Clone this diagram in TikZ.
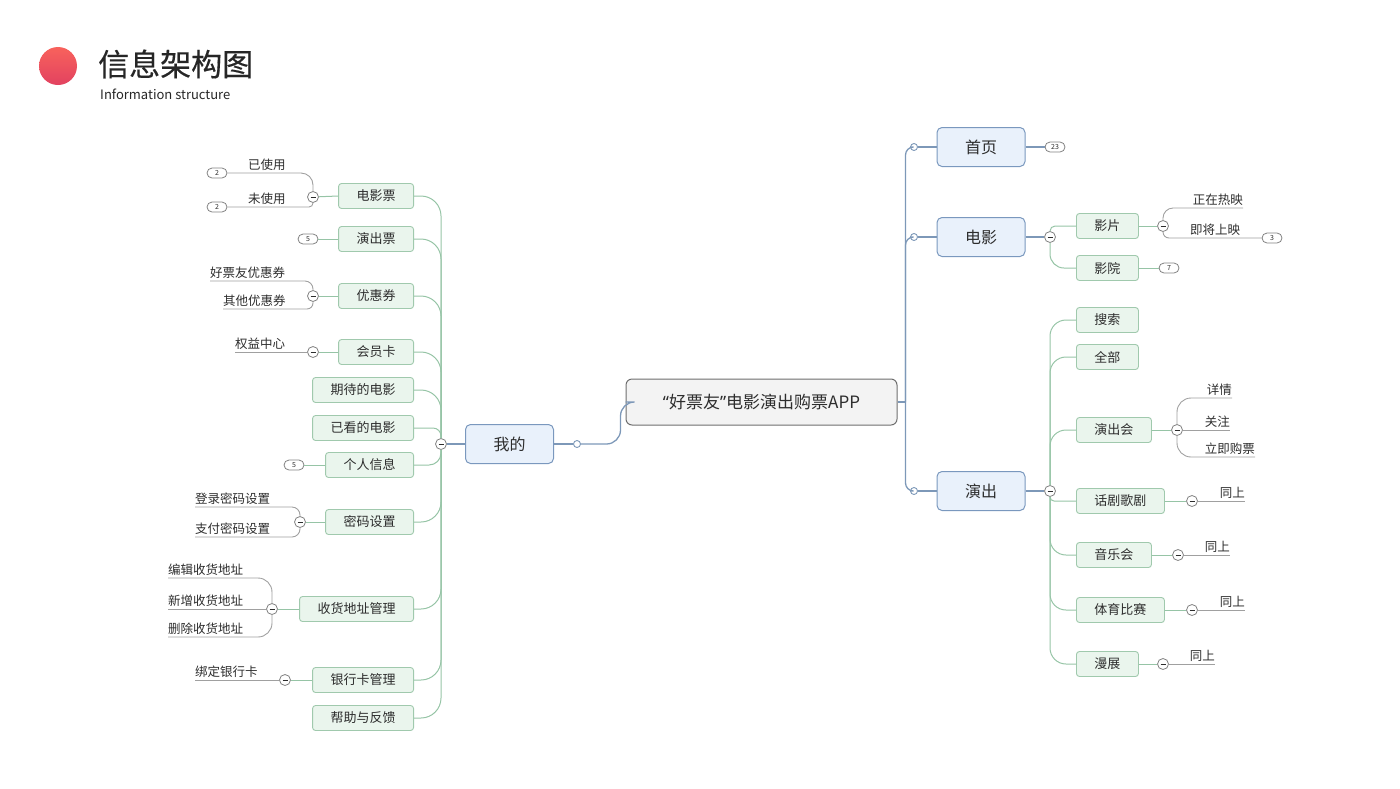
\documentclass[tikz,border=0pt]{standalone}
\usepackage{fontspec}
\setmainfont{Noto Sans CJK SC}
\newfontfamily\quotefont{Noto Sans}
\newfontfamily\titlefont{Noto Sans CJK SC}[FakeBold=0.4]
\usetikzlibrary{calc}
\definecolor{gline}{RGB}{150,196,166}
\definecolor{gborder}{RGB}{160,201,173}
\definecolor{gfill}{RGB}{234,245,237}
\definecolor{bline}{RGB}{125,152,184}
\definecolor{bborder}{RGB}{122,152,190}
\definecolor{bfill}{RGB}{233,241,251}
\definecolor{afill}{RGB}{243,243,243}
\definecolor{aborder}{RGB}{110,110,110}
\definecolor{lline}{RGB}{160,160,160}
\definecolor{mgray}{RGB}{130,130,130}
\definecolor{txt}{RGB}{45,45,45}
\newcommand{\fsz}[1]{\fontsize{#1}{#1}\selectfont}
\tikzset{
  gbox/.style  = {draw=gborder, fill=gfill, rounded corners=3pt, line width=0.9pt,
                  minimum height=25, inner xsep=18pt, font=\fsz{13}, text=txt},
  bbox/.style  = {draw=bborder, fill=bfill, rounded corners=5pt, line width=1pt,
                  minimum width=88, minimum height=39, font=\fsz{16}, text=txt},
  minus/.style = {circle, draw=mgray, fill=white, minimum size=11, inner sep=0,
                  line width=0.8pt,
                  path picture={\draw[txt, line width=1pt]
                    ([xshift=-2.5pt]path picture bounding box.center) --
                    ([xshift=2.5pt]path picture bounding box.center);}},
  ocirc/.style = {circle, draw=bline, fill=white, minimum size=7, inner sep=0, line width=0.9pt},
  badge/.style = {draw=mgray, fill=white, rounded corners=5pt, minimum width=20, line width=0.8pt,
                  minimum height=10, inner sep=0, font=\fsz{7}, text=txt},
  leaf/.style  = {inner xsep=0, inner ysep=2pt, font=\fsz{12.5}, text=txt},
  gl/.style    = {draw=gline, line width=1pt},
  bl/.style    = {draw=bline, line width=1.3pt},
  ll/.style    = {draw=lline, line width=0.9pt}
}
\begin{document}
\begin{tikzpicture}[x=1pt, y=-1pt]
    \useasboundingbox (0,0) rectangle (1400,788);
    % title
    \shade[top color={rgb,255:red,248;green,98;blue,92}, bottom color={rgb,255:red,226;green,66;blue,96}]
        (58,66) circle (19);
    \node[anchor=west, inner sep=0, font=\titlefont\fsz{31}, text=black!85] (ttl) at (98,64) {信息架构图};
    \node[anchor=west, inner sep=0, font=\fsz{13}, text=black!85] (sub) at (100,94) {Information structure};

    % centre and first level
    \node[draw=aborder, fill=afill, rounded corners=6pt, line width=1pt, minimum width=271,
          minimum height=46, font=\fsz{17}, text=txt] (app) at (761.5,402)
          {{\quotefont “}好票友{\quotefont ”}电影演出购票APP};
    \node[bbox] (wd) at (509.5,444) {我的};
    \node[bbox] (sy) at (981,147) {首页};
    \node[bbox] (dy) at (981,237) {电影};
    \node[bbox] (yc) at (981,491) {演出};
    \node[ocirc] (o-wd) at (577,444) {};
    \node[ocirc] (o-sy) at (914,147) {};
    \node[ocirc] (o-dy) at (914,237) {};
    \node[ocirc] (o-yc) at (914,491) {};
    \coordinate (tl) at ($(app.west)+(-5,0)$);
    \coordinate (tr) at ($(app.east)+(8,0)$);
    \draw[bl] (wd.east) -- (o-wd);
    \draw[bl, rounded corners=14] (o-wd) -| (tl) -- (app.west);
    \draw[bl] (app.east) -- (tr);
    \foreach \n in {sy,dy,yc} {
        \draw[bl, rounded corners=8] (o-\n) -| (tr);
        \draw[bl] (o-\n) -- (\n.west);
    }

    % 我的
    \node[minus] (m-wd) at (441,444) {};
    \node[gbox, anchor=east] (dyp)  at (414,196) {电影票};
    \node[gbox, anchor=east] (ycp)  at (414,239) {演出票};
    \node[gbox, anchor=east] (yhq)  at (414,296) {优惠券};
    \node[gbox, anchor=east] (hyk)  at (414,352) {会员卡};
    \node[gbox, anchor=east] (qd)   at (414,390) {期待的电影};
    \node[gbox, anchor=east] (yk)   at (414,428) {已看的电影};
    \node[gbox, anchor=east] (grxx) at (414,465) {个人信息};
    \node[gbox, anchor=east] (mm)   at (414,522) {密码设置};
    \node[gbox, anchor=east] (dz)   at (414,609) {收货地址管理};
    \node[gbox, anchor=east] (yhk)  at (414,680) {银行卡管理};
    \node[gbox, anchor=east] (bz)   at (414,718) {帮助与反馈};
    \draw[bl] (m-wd) -- (wd.west);
    \foreach \n/\r in {dyp/20,ycp/20,yhq/20,hyk/20,qd/20,yk/8,grxx/12,mm/20,dz/20,yhk/20,bz/20}
        \draw[gl, rounded corners=\r] (m-wd) |- (\n.east);

    \node[minus] (m-dyp) at (313,197) {};
    \node[minus] (m-yhq) at (313,296) {};
    \node[minus] (m-hyk) at (313,352) {};
    \node[minus] (m-mm)  at (300,522) {};
    \node[minus] (m-dz)  at (272,609) {};
    \node[minus] (m-yhk) at (285,680) {};
    \foreach \n in {dyp,yhq,hyk,mm,dz,yhk}
        \draw[gl] (\n.west) -- (m-\n);
    \node[badge] (b-ysy)  at (217,173) {2};
    \node[badge] (b-wsy)  at (217,207) {2};
    \node[badge] (b-ycp)  at (308,239) {5};
    \node[badge] (b-grxx) at (294,465) {5};
    \draw[gl] (b-ycp) -- (ycp.west);
    \draw[gl] (b-grxx) -- (grxx.west);
    \node[leaf, anchor=south west] (l-ysy) at (248,173) {已使用};
    \node[leaf, anchor=south west] (l-wsy) at (248,207) {未使用};
    \node[leaf, anchor=south west] (l-hpy) at (210,281) {好票友优惠券};
    \node[leaf, anchor=south west] (l-qt)  at (223,309) {其他优惠券};
    \node[leaf, anchor=south west] (l-qy)  at (235,352) {权益中心};
    \node[leaf, anchor=south west] (l-dl)  at (195,507) {登录密码设置};
    \node[leaf, anchor=south west] (l-zf)  at (195,537) {支付密码设置};
    \node[leaf, anchor=south west] (l-bj)  at (168,578) {编辑收货地址};
    \node[leaf, anchor=south west] (l-xz)  at (168,609) {新增收货地址};
    \node[leaf, anchor=south west] (l-sc)  at (168,637) {删除收货地址};
    \node[leaf, anchor=south west] (l-bd)  at (195,680) {绑定银行卡};
    \draw[ll, rounded corners=12] (m-dyp) |- (b-ysy.east);
    \draw[ll, rounded corners=4]  (m-dyp) |- (b-wsy.east);
    \draw[ll, rounded corners=8]  (m-yhq) |- (l-hpy.south west);
    \draw[ll, rounded corners=6]  (m-yhq) |- (l-qt.south west);
    \draw[ll] (m-hyk) -- (l-qy.south west);
    \draw[ll, rounded corners=8]  (m-mm) |- (l-dl.south west);
    \draw[ll, rounded corners=8]  (m-mm) |- (l-zf.south west);
    \draw[ll, rounded corners=14] (m-dz) |- (l-bj.south west);
    \draw[ll] (m-dz) -- (l-xz.south west);
    \draw[ll, rounded corners=14] (m-dz) |- (l-sc.south west);
    \draw[ll] (m-yhk) -- (l-bd.south west);

    % 首页 / 电影
    \node[badge] (b-sy) at (1055,147) {23};
    \draw[bl] (sy.east) -- (b-sy);
    \node[minus] (m-dy) at (1050,237) {};
    \draw[bl] (dy.east) -- (m-dy);
    \node[gbox, anchor=west] (yp)    at (1076,226) {影片};
    \node[gbox, anchor=west] (yyuan) at (1076,268) {影院};
    \draw[gl, rounded corners=5]  (m-dy) |- (yp.west);
    \draw[gl, rounded corners=14] (m-dy) |- (yyuan.west);
    \node[badge] (b-yyuan) at (1169,268) {7};
    \draw[gl] (yyuan.east) -- (b-yyuan);
    \node[minus] (m-yp) at (1163,226) {};
    \draw[gl] (yp.east) -- (m-yp);
    \node[leaf, anchor=south east] (l-zz) at (1243,208) {正在热映};
    \node[leaf, anchor=south west] (l-jj) at (1190,238) {即将上映};
    \node[badge] (b-jj) at (1272,238) {3};
    \draw[ll, rounded corners=10] (m-yp) |- (l-zz.south east);
    \draw[ll, rounded corners=6]  (m-yp) |- (b-jj.west);

    % 演出
    \node[minus] (m-yc) at (1050,491) {};
    \draw[bl] (yc.east) -- (m-yc);
    \node[gbox, anchor=west] (ss)  at (1076,320) {搜索};
    \node[gbox, anchor=west] (qb)  at (1076,357) {全部};
    \node[gbox, anchor=west] (ych) at (1076,430) {演出会};
    \node[gbox, anchor=west] (hj)  at (1076,501) {话剧歌剧};
    \node[gbox, anchor=west] (yy)  at (1076,555) {音乐会};
    \node[gbox, anchor=west] (ty)  at (1076,610) {体育比赛};
    \node[gbox, anchor=west] (mz)  at (1076,664) {漫展};
    \foreach \n/\r in {ss/16,qb/16,ych/16,hj/4,yy/16,ty/16,mz/16}
        \draw[gl, rounded corners=\r] (m-yc) |- (\n.west);

    \node[minus] (m-ych) at (1177,430) {};
    \draw[gl] (ych.east) -- (m-ych);
    \node[leaf, anchor=south east] (l-xq) at (1232,398) {详情};
    \node[leaf, anchor=south east] (l-gz) at (1230,430) {关注};
    \node[leaf, anchor=south east] (l-lj) at (1255,457) {立即购票};
    \draw[ll, rounded corners=14] (m-ych) |- (l-xq.south east);
    \draw[ll] (m-ych) -- (l-gz.south east);
    \draw[ll, rounded corners=14] (m-ych) |- (l-lj.south east);

    \node[minus] (m-hj) at (1192,501) {};
    \node[minus] (m-yy) at (1178,555) {};
    \node[minus] (m-ty) at (1192,610) {};
    \node[minus] (m-mz) at (1163,664) {};
    \node[leaf, anchor=south east] (l-hj) at (1245,501) {同上};
    \node[leaf, anchor=south east] (l-yy) at (1230,555) {同上};
    \node[leaf, anchor=south east] (l-ty) at (1245,610) {同上};
    \node[leaf, anchor=south east] (l-mz) at (1215,664) {同上};
    \foreach \n in {hj,yy,ty,mz} {
        \draw[gl] (\n.east) -- (m-\n);
        \draw[ll] (m-\n) -- (l-\n.south east);
    }
\end{tikzpicture}
\end{document}
